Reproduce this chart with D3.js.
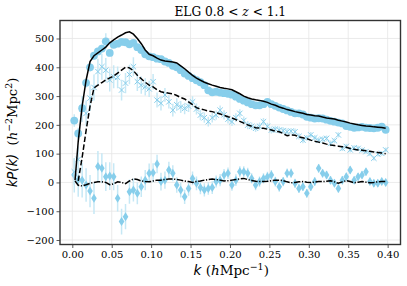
<!DOCTYPE html>
<html><head><meta charset="utf-8">
<script src="https://cdn.jsdelivr.net/npm/d3@7"></script>
<style>body{margin:0;background:#fff}svg{display:block}</style>
</head><body>
<script>
// ---- data ----
const kData = [0.0025,0.0075,0.0125,0.0175,0.0225,0.0275,0.0325,0.0375,0.0425,0.0475,
0.0525,0.0575,0.0625,0.0675,0.0725,0.0775,0.0825,0.0875,0.0925,0.0975,
0.1025,0.1075,0.1125,0.1175,0.1225,0.1275,0.1325,0.1375,0.1425,0.1475,
0.1525,0.1575,0.1625,0.1675,0.1725,0.1775,0.1825,0.1875,0.1925,0.1975,
0.2025,0.2075,0.2125,0.2175,0.2225,0.2275,0.2325,0.2375,0.2425,0.2475,
0.2525,0.2575,0.2625,0.2675,0.2725,0.2775,0.2825,0.2875,0.2925,0.2975,
0.3025,0.3075,0.3125,0.3175,0.3225,0.3275,0.3325,0.3375,0.3425,0.3475,
0.3525,0.3575,0.3625,0.3675,0.3725,0.3775,0.3825,0.3875,0.3925,0.3975];
const P0 = [215,170,258,346,400,440,455,465,490,450,
478,482,488,487,480,485,470,460,445,438,
435,430,428,420,415,405,400,390,378,370,
362,355,348,338,320,313,315,312,310,308,
305,298,290,284,278,272,268,268,272,280,
272,266,260,255,250,245,240,240,236,228,
225,222,223,222,218,214,211,208,205,196,
193,190,191,193,190,189,188,190,194,183];
const P0err = [22,20,18,16,15,14,13,13,28,12,
11,10,10,10,9,9,9,8,8,8,
8,7,7,7,7,7,6,6,6,6,
6,6,6,5,5,5,5,5,5,5,
5,5,5,5,5,5,5,5,5,5,
5,5,5,5,5,5,5,5,5,5,
5,5,5,5,5,5,5,5,5,5,
5,5,5,5,5,5,5,5,5,5];
const P2 = [37,80,255,240,293,330,385,402,390,356,
367,365,321,345,375,402,350,338,332,325,
350,286,275,304,280,251,270,262,257,265,
280,255,234,225,211,225,234,251,235,220,
211,225,240,215,199,195,188,195,211,195,
182,185,182,180,176,178,176,160,147,155,
165,155,147,150,153,136,145,165,118,125,
113,120,118,112,107,100,84,98,101,113];
const P2err = [45,45,45,45,45,45,45,45,42,40,
40,38,36,35,34,33,32,30,30,28,
27,26,25,24,23,22,22,21,20,20,
19,19,18,18,17,17,16,16,16,15,
15,15,14,14,14,13,13,13,13,12,
12,12,12,12,11,11,11,11,11,10,
10,10,10,10,10,10,9,9,9,9,
9,9,9,9,8,8,8,8,8,8];
const P4 = [25,10,8,-9,-30,-55,55,49,20,22,
20,-55,-136,-119,-32,-26,-38,-15,8,32,
34,64,3,8,43,32,-9,-26,-50,-21,
14,-3,-18,-26,-21,-18,3,8,26,32,
-9,8,37,37,32,14,-9,3,14,20,
26,3,-15,3,32,32,-3,-21,-15,-38,
-15,3,49,32,26,8,-3,-21,8,20,
43,8,20,26,37,3,-3,-3,3,0];
const P4err = [60,60,60,58,56,55,54,52,50,48,
47,46,45,44,42,40,38,36,35,34,
33,32,31,30,29,28,27,26,25,25,
24,24,23,23,22,22,21,21,21,20,
20,20,19,19,19,18,18,18,18,17,
17,17,17,16,16,16,16,16,15,15,
15,15,15,15,14,14,14,14,14,14,
14,13,13,13,13,13,13,13,13,13];
const kModel = [0.0035,0.0075,0.0125,0.0175,0.0225,0.0275,0.0325,0.0375,0.0425,0.0475,
0.0525,0.0575,0.0625,0.0675,0.0725,0.0775,0.0825,0.0875,0.0925,0.0975,
0.1025,0.1075,0.1125,0.1175,0.1225,0.1275,0.1325,0.1375,0.1425,0.1475,
0.1525,0.1575,0.1625,0.1675,0.1725,0.1775,0.1825,0.1875,0.1925,0.1975,
0.2025,0.2075,0.2125,0.2175,0.2225,0.2275,0.2325,0.2375,0.2425,0.2475,
0.2525,0.2575,0.2625,0.2675,0.2725,0.2775,0.2825,0.2875,0.2925,0.2975,
0.3025,0.3075,0.3125,0.3175,0.3225,0.3275,0.3325,0.3375,0.3425,0.3475,
0.3525,0.3575,0.3625,0.3675,0.3725,0.3775,0.3825,0.3875,0.3925,0.3975];
const M0 = [8,142,265,355,420,440,450,460,470,485,
495,505,512,520,523,515,500,482,460,445,
440,432,425,422,420,418,415,405,395,383,
372,362,355,348,343,338,334,330,327,325,
322,315,308,300,294,290,287,285,282,278,
272,268,262,258,253,250,246,243,240,236,
234,232,231,227,224,222,220,216,213,210,
206,203,200,198,196,195,193,192,191,188];
const M2 = [null,5,87,180,265,328,338,347,356,363,
370,380,390,400,398,388,372,360,348,338,
332,322,315,312,310,308,302,295,290,280,
270,260,255,252,248,246,242,238,233,228,
224,218,212,206,200,195,190,189,188,185,
182,178,176,170,162,165,164,158,155,152,
147,143,140,137,133,130,128,126,124,122,
118,115,113,112,110,108,106,104,102,100];
const M4 = [5,-10,-12,-8,-3,0,2,2,0,-8,
-5,2,0,-4,5,12,10,5,3,2,
5,8,8,10,12,12,10,8,5,3,
0,3,5,8,10,12,10,8,5,6,
8,10,12,14,10,7,4,3,3,4,
6,8,8,6,2,-1,0,2,3,1,
0,1,3,3,4,6,2,-3,2,6,
3,-1,1,3,1,-1,0,2,3,3];
const xTicks = [0.00,0.05,0.10,0.15,0.20,0.25,0.30,0.35,0.40];
const yTicks = [-200,-100,0,100,200,300,400,500];

// ---- drawing ----
const W = 407, H = 286;
const L = 60, R = 400.5, T = 20.5, B = 244.5;
const x = d3.scaleLinear().domain([-0.0156, 0.4163]).range([L, R]);
const y = d3.scaleLinear().domain([-215.6, 562.5]).range([B, T]);
const col = "#87CEEB", errCol = "#c6e8f5";
const serif = "'DejaVu Serif', 'Liberation Serif', serif";
const sans = "'DejaVu Sans', sans-serif";

const svg = d3.select("body").append("svg").attr("width", W).attr("height", H);
svg.append("defs").append("clipPath").attr("id","clip")
  .append("rect").attr("x",L).attr("y",T).attr("width",R-L).attr("height",B-T);

const g = svg.append("g");
g.selectAll(".gx").data(xTicks).join("line")
  .attr("x1", d=>x(d)).attr("x2", d=>x(d)).attr("y1", T).attr("y2", B)
  .attr("stroke", "#e6e6e6").attr("stroke-width", 0.8);
g.selectAll(".gy").data(yTicks).join("line")
  .attr("y1", d=>y(d)).attr("y2", d=>y(d)).attr("x1", L).attr("x2", R)
  .attr("stroke", "#e6e6e6").attr("stroke-width", 0.8);

const plot = svg.append("g").attr("clip-path","url(#clip)");

function series(vals, errs, marker){
  const d = kData.map((k,i)=>({k, v:vals[i], e:errs[i]}));
  plot.append("g").selectAll("line").data(d).join("line")
    .attr("x1", p=>x(p.k)).attr("x2", p=>x(p.k))
    .attr("y1", p=>y(p.v-p.e)).attr("y2", p=>y(p.v+p.e))
    .attr("stroke", errCol).attr("stroke-width", 1.5);
  const mg = plot.append("g");
  if(marker==="o"){
    mg.selectAll("circle").data(d).join("circle")
      .attr("cx", p=>x(p.k)).attr("cy", p=>y(p.v)).attr("r", 3.9).attr("fill", col);
  } else if(marker==="x"){
    mg.selectAll("path").data(d).join("path")
      .attr("d", p=>{const cx=x(p.k), cy=y(p.v), s=2.7;
        return `M${cx-s},${cy-s}L${cx+s},${cy+s}M${cx-s},${cy+s}L${cx+s},${cy-s}`;})
      .attr("stroke", col).attr("stroke-width", 1).attr("fill","none");
  } else {
    mg.selectAll("path").data(d).join("path")
      .attr("d", p=>{const cx=x(p.k), cy=y(p.v), w=2.8, h=4.5;
        return `M${cx},${cy-h}L${cx+w},${cy}L${cx},${cy+h}L${cx-w},${cy}Z`;})
      .attr("fill", col);
  }
}
series(P4, P4err, "d");
series(P2, P2err, "x");
series(P0, P0err, "o");

function model(vals, dash){
  const d = kModel.map((k,i)=>({k, v:vals[i]}));
  plot.append("path").datum(d)
    .attr("d", d3.line().defined(p=>p.v!==null).x(p=>x(p.k)).y(p=>y(p.v)))
    .attr("fill","none").attr("stroke","#000").attr("stroke-width",1.5)
    .attr("stroke-dasharray", dash);
}
model(M0, null);
model(M2, "5.5,2.4");
model(M4, "6.4,1.6,1.2,1.6");

const fmtMinus = s => s.replace("-", "\u2212");
const xAxis = svg.append("g").attr("transform", `translate(0,${B})`)
  .call(d3.axisBottom(x).tickValues(xTicks).tickFormat(d3.format(".2f")).tickSize(3.5).tickPadding(2.5));
const yAxis = svg.append("g").attr("transform", `translate(${L},0)`)
  .call(d3.axisLeft(y).tickValues(yTicks).tickFormat(d=>fmtMinus(String(d))).tickSize(3.5).tickPadding(2.5));
[xAxis, yAxis].forEach(a=>{
  a.select(".domain").remove();
  a.selectAll("line").attr("stroke","#333").attr("stroke-width",0.8);
  a.selectAll("text").attr("font-family", serif).attr("font-size", 10).attr("fill","#000");
});

svg.append("rect").attr("x",L).attr("y",T).attr("width",R-L).attr("height",B-T)
  .attr("fill","none").attr("stroke","#333").attr("stroke-width",1.4);

const ttl = svg.append("text").attr("x", (L+R)/2).attr("y", 16)
  .attr("text-anchor","middle").attr("font-family", serif).attr("font-size", 12.2);
ttl.append("tspan").text("ELG 0.8 < ");
ttl.append("tspan").attr("font-style","italic").text("z");
ttl.append("tspan").text(" < 1.1");

const xl = svg.append("text").attr("x", (L+R)/2 + 1).attr("y", 275)
  .attr("text-anchor","middle").attr("font-family", serif).attr("font-size", 13.5);
xl.append("tspan").attr("font-style","italic").attr("font-family", sans).text("k");
xl.append("tspan").text(" (");
xl.append("tspan").attr("font-style","italic").text("h");
xl.append("tspan").text("Mpc");
xl.append("tspan").attr("font-size", 9.5).attr("dy", -5.5).text("\u22121");
xl.append("tspan").attr("dy", 5.5).text(")");

const yl = svg.append("text").attr("transform", `translate(17,${(T+B)/2}) rotate(-90)`)
  .attr("text-anchor","middle").attr("font-family", serif).attr("font-size", 13.2);
yl.append("tspan").attr("font-style","italic").attr("font-family", sans).text("kP(k)");
yl.append("tspan").text("\u00a0\u00a0(");
yl.append("tspan").attr("font-style","italic").text("h");
yl.append("tspan").attr("font-size", 9.3).attr("dy", -5.5).text("\u22122");
yl.append("tspan").attr("dy", 5.5).text("Mpc");
yl.append("tspan").attr("font-size", 9.3).attr("dy", -5.5).text("2");
yl.append("tspan").attr("dy", 5.5).text(")");
</script>
</body></html>
